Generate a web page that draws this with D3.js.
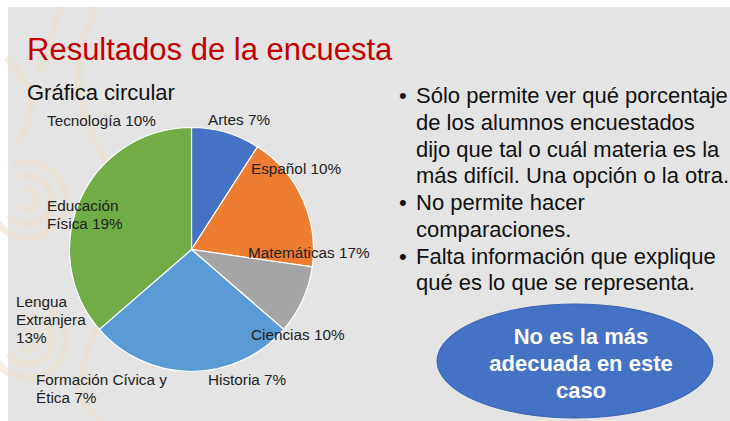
<!DOCTYPE html>
<html>
<head>
<meta charset="utf-8">
<script src="https://cdn.jsdelivr.net/npm/d3@7"></script>
<style>
  html, body { margin: 0; padding: 0; background: #fff; }
  svg { display: block; }
  text { font-family: "Liberation Sans", Arial, sans-serif; }
</style>
</head>
<body>
<div id="slide"></div>
<script>
// pie slices (share of the circle as drawn)
var sliceValues = [1, 2, 1, 3, 4];
var sliceColors = ["#4472C4", "#ED7D31", "#A5A5A5", "#5B9BD5", "#70AD47"];

// labels written round the pie (do not match slices in the original)
var labelLines = [
    ["Tecnología 10%"],
    ["Artes 7%"],
    ["Español 10%"],
    ["Educación", "Física 19%"],
    ["Matemáticas 17%"],
    ["Lengua", "Extranjera", "13%"],
    ["Ciencias 10%"],
    ["Formación Cívica y", "Ética 7%"],
    ["Historia 7%"]
];

var bullets = [
    ["Sólo permite ver qué porcentaje", "de los alumnos encuestados", "dijo que tal o cuál materia es la", "más difícil. Una opción o la otra."],
    ["No permite hacer", "comparaciones."],
    ["Falta información que explique", "qué es lo que se representa."]
];

var calloutLines = ["No es la más", "adecuada en este", "caso"];

// layout
var W = 730, H = 421;
var pieCenter = [191.5, 249.5], pieR = 122;
// label anchors: left x, first baseline
var labelPos = [[47, 126], [208, 125], [251, 174], [47, 211], [248, 258],
                [16, 307], [251, 340], [36, 385], [208, 385]];

var svg = d3.select("#slide").append("svg")
    .attr("width", W)
    .attr("height", H);

svg.append("rect")
    .attr("x", 8).attr("y", 7)
    .attr("width", W - 8).attr("height", H - 7)
    .attr("fill", "#E4E4E4");

// faint decorative pattern on the left
var deco = svg.append("g")
    .attr("fill", "none")
    .attr("stroke", "#EEE0CB")
    .attr("stroke-width", 7)
    .attr("stroke-linecap", "round")
    .attr("opacity", 0.55);
[[28, 200], [28, 340]].forEach(function(c) {
    [10, 24, 38].forEach(function(r) {
        deco.append("path")
            .attr("d", d3.arc()({innerRadius: r, outerRadius: r, startAngle: -0.4, endAngle: Math.PI * 1.3}))
            .attr("transform", "translate(" + c[0] + "," + c[1] + ")");
    });
});
deco.append("path").attr("d", "M95,10 C70,60 75,110 100,150 S120,260 95,330 S80,400 100,421");
deco.append("path").attr("d", "M8,60 C30,80 40,110 20,140");
deco.append("path").attr("d", "M60,10 C50,30 55,50 40,70");

svg.append("text")
    .attr("x", 27).attr("y", 60)
    .attr("font-size", 31)
    .attr("fill", "#C00000")
    .text("Resultados de la encuesta");

svg.append("text")
    .attr("x", 27).attr("y", 100)
    .attr("font-size", 22)
    .attr("fill", "#111")
    .text("Gráfica circular");

var pie = d3.pie().sort(null).value(function(d) { return d; });
var arc = d3.arc().innerRadius(0).outerRadius(pieR);

var g = svg.append("g")
    .attr("transform", "translate(" + pieCenter[0] + "," + pieCenter[1] + ")");
g.selectAll(".slice")
    .data(pie(sliceValues)).enter().append("path")
    .attr("class", "slice")
    .attr("d", arc)
    .attr("fill", function(d, i) { return sliceColors[i]; })
    .attr("stroke", "#fff")
    .attr("stroke-width", 1.2);

var lbl = svg.selectAll(".lbl")
    .data(labelLines).enter().append("text")
    .attr("class", "lbl")
    .attr("font-size", 15.3)
    .attr("fill", "#222");
lbl.selectAll("tspan")
    .data(function(d, i) { return d.map(function(t) { return {t: t, i: i}; }); })
    .enter().append("tspan")
    .attr("x", function(d) { return labelPos[d.i][0]; })
    .attr("y", function(d, j) { return labelPos[d.i][1] + j * 18.2; })
    .text(function(d) { return d.t; });

// bullet list
var lineH = 26.7, line = 0;
var bl = svg.append("g").attr("font-size", 22).attr("fill", "#111");
bullets.forEach(function(b) {
    bl.append("text")
        .attr("x", 399).attr("y", 103.3 + line * lineH)
        .text("•");
    b.forEach(function(t) {
        bl.append("text")
            .attr("x", 416).attr("y", 103.3 + line * lineH)
            .text(t);
        line++;
    });
});

// callout
svg.append("ellipse")
    .attr("cx", 575).attr("cy", 361)
    .attr("rx", 138).attr("ry", 57)
    .attr("fill", "#4472C4")
    .attr("stroke", "#3A64B0")
    .attr("stroke-width", 1);
svg.append("g").selectAll("text")
    .data(calloutLines).enter().append("text")
    .attr("x", 581)
    .attr("y", function(d, i) { return 344 + i * 27; })
    .attr("text-anchor", "middle")
    .attr("font-size", 22)
    .attr("font-weight", "bold")
    .attr("fill", "#fff")
    .text(function(d) { return d; });
</script>
</body>
</html>
